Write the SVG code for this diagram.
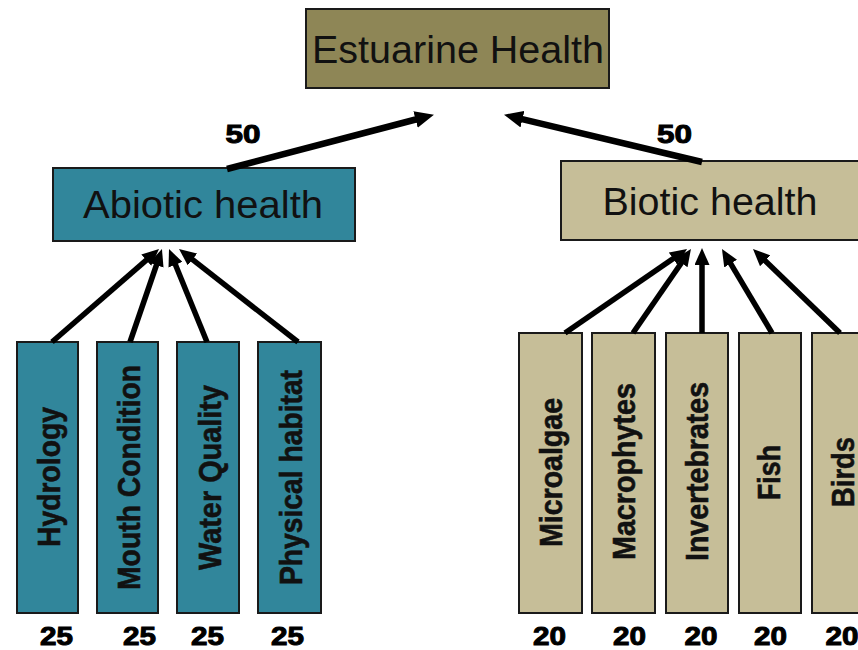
<svg xmlns="http://www.w3.org/2000/svg" width="858" height="650" viewBox="0 0 858 650">
<style>
.box{stroke:#1a1a1a;stroke-width:2}
.olive{fill:#8E8656}
.teal{fill:#31869B}
.tan{fill:#C6BE98}
.big{font-family:"Liberation Sans",Arial,sans-serif;font-size:38px;fill:#111;text-anchor:middle}
.vl{font-family:"Liberation Sans",Arial,sans-serif;font-size:32px;font-weight:bold;fill:#111;stroke:#111;stroke-width:0.6;text-anchor:middle}
.num{font-family:"Liberation Sans",Arial,sans-serif;font-size:26px;font-weight:bold;fill:#000;stroke:#000;stroke-width:1;text-anchor:middle}
.conn line{stroke:#000;stroke-width:5.5}
.conn line.top{stroke-width:6.5}
</style>
<defs>
<marker id="ah" markerUnits="userSpaceOnUse" viewBox="0 0 17 15" refX="7" refY="7.5" markerWidth="17" markerHeight="15" orient="auto">
<path d="M0,0 L17,7.5 L0,15 z" fill="#000"/>
</marker>
<marker id="ahb" markerUnits="userSpaceOnUse" viewBox="0 0 19 17" refX="8" refY="8.5" markerWidth="19" markerHeight="17" orient="auto">
<path d="M0,0 L19,8.5 L0,17 z" fill="#000"/>
</marker>
</defs>
<rect width="858" height="650" fill="#fff"/>

<g id="estuarine-health">
<rect class="box olive" x="306" y="9" width="303" height="79"/>
<text class="big" x="458" y="63" textLength="292" lengthAdjust="spacingAndGlyphs">Estuarine Health</text>
</g>
<g id="abiotic-health">
<rect class="box teal" x="53" y="168" width="302" height="73"/>
<text class="big" x="203" y="218" textLength="240" lengthAdjust="spacingAndGlyphs">Abiotic health</text>
</g>
<g id="biotic-health">
<rect class="box tan" x="561" y="161" width="310" height="79"/>
<text class="big" x="710" y="215" textLength="215" lengthAdjust="spacingAndGlyphs">Biotic health</text>
</g>

<g id="hydrology">
<rect class="box teal" x="17" y="342" width="61" height="271"/>
<text class="vl" transform="translate(60,477) rotate(-90)" textLength="140" lengthAdjust="spacingAndGlyphs">Hydrology</text>
</g>
<g id="mouth-condition">
<rect class="box teal" x="97" y="342" width="61" height="271"/>
<text class="vl" transform="translate(140,477.5) rotate(-90)" textLength="225" lengthAdjust="spacingAndGlyphs">Mouth Condition</text>
</g>
<g id="water-quality">
<rect class="box teal" x="177" y="342" width="62" height="271"/>
<text class="vl" transform="translate(221,477.5) rotate(-90)" textLength="185" lengthAdjust="spacingAndGlyphs">Water Quality</text>
</g>
<g id="physical-habitat">
<rect class="box teal" x="258" y="342" width="63" height="271"/>
<text class="vl" transform="translate(302,477.5) rotate(-90)" textLength="215" lengthAdjust="spacingAndGlyphs">Physical habitat</text>
</g>

<g id="microalgae">
<rect class="box tan" x="519" y="333" width="63" height="280"/>
<text class="vl" transform="translate(562,472.5) rotate(-90)" textLength="149" lengthAdjust="spacingAndGlyphs">Microalgae</text>
</g>
<g id="macrophytes">
<rect class="box tan" x="592" y="333" width="63" height="280"/>
<text class="vl" transform="translate(635,471.5) rotate(-90)" textLength="177" lengthAdjust="spacingAndGlyphs">Macrophytes</text>
</g>
<g id="invertebrates">
<rect class="box tan" x="666" y="333" width="62" height="280"/>
<text class="vl" transform="translate(708,471.5) rotate(-90)" textLength="179" lengthAdjust="spacingAndGlyphs">Invertebrates</text>
</g>
<g id="fish">
<rect class="box tan" x="739" y="333" width="62" height="280"/>
<text class="vl" transform="translate(780,472.5) rotate(-90)" textLength="55" lengthAdjust="spacingAndGlyphs">Fish</text>
</g>
<g id="birds">
<rect class="box tan" x="812" y="333" width="63" height="280"/>
<text class="vl" transform="translate(854,472) rotate(-90)" textLength="70" lengthAdjust="spacingAndGlyphs">Birds</text>
</g>

<g id="connectors" class="conn">
<line class="top" x1="227" y1="169" x2="423.3" y2="117.5" marker-end="url(#ahb)"/>
<line class="top" x1="702" y1="162" x2="514.7" y2="117.3" marker-end="url(#ahb)"/>
<line x1="52" y1="342" x2="151.5" y2="255.6" marker-end="url(#ah)"/>
<line x1="130" y1="342" x2="158.7" y2="258.5" marker-end="url(#ah)"/>
<line x1="207" y1="342" x2="172.8" y2="258.3" marker-end="url(#ah)"/>
<line x1="298" y1="342" x2="186.9" y2="255.2" marker-end="url(#ah)"/>
<line x1="565" y1="333" x2="678.8" y2="254.7" marker-end="url(#ah)"/>
<line x1="633" y1="333" x2="685.3" y2="257.2" marker-end="url(#ah)"/>
<line x1="702" y1="333" x2="702" y2="258" marker-end="url(#ah)"/>
<line x1="772" y1="333" x2="727.1" y2="257.6" marker-end="url(#ah)"/>
<line x1="840" y1="333" x2="760.2" y2="256" marker-end="url(#ah)"/>
</g>

<g id="weights">
<text class="num" x="243" y="143" textLength="35" lengthAdjust="spacingAndGlyphs">50</text>
<text class="num" x="674.5" y="143" textLength="35" lengthAdjust="spacingAndGlyphs">50</text>
<text class="num" x="56.5" y="645" textLength="33" lengthAdjust="spacingAndGlyphs">25</text>
<text class="num" x="139.5" y="645" textLength="33" lengthAdjust="spacingAndGlyphs">25</text>
<text class="num" x="207.5" y="645" textLength="33" lengthAdjust="spacingAndGlyphs">25</text>
<text class="num" x="287.5" y="645" textLength="33" lengthAdjust="spacingAndGlyphs">25</text>
<text class="num" x="549.5" y="645" textLength="33" lengthAdjust="spacingAndGlyphs">20</text>
<text class="num" x="629.5" y="645" textLength="33" lengthAdjust="spacingAndGlyphs">20</text>
<text class="num" x="701" y="645" textLength="33" lengthAdjust="spacingAndGlyphs">20</text>
<text class="num" x="770.5" y="645" textLength="33" lengthAdjust="spacingAndGlyphs">20</text>
<text class="num" x="842" y="645" textLength="33" lengthAdjust="spacingAndGlyphs">20</text>
</g>
</svg>
